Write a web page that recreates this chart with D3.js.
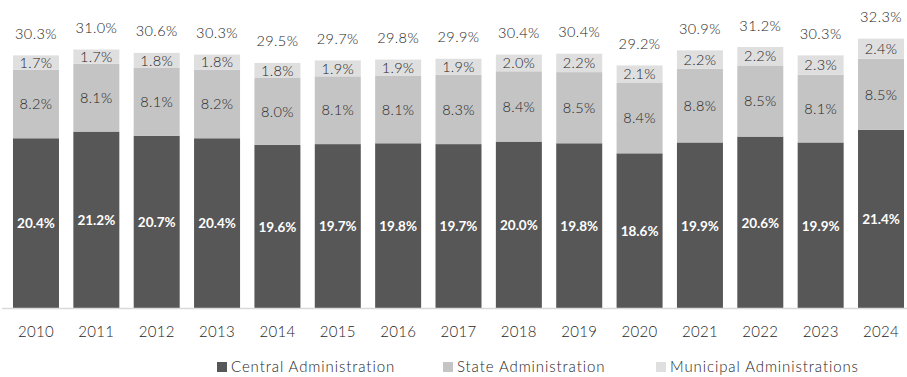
<!DOCTYPE html>
<html>
<head>
<meta charset="utf-8">
<script src="https://cdn.jsdelivr.net/npm/d3@7/dist/d3.min.js"></script>
<style>
  html, body { margin: 0; padding: 0; background: #ffffff; }
  svg { display: block; font-family: Lato, "Noto Sans", sans-serif; }
</style>
</head>
<body>
<svg id="chart" width="907" height="377"></svg>
<script>
// Public revenue shares by level of government (% of GDP)
const years = ["2010","2011","2012","2013","2014","2015","2016","2017","2018","2019","2020","2021","2022","2023","2024"];
const central   = [20.4, 21.2, 20.7, 20.4, 19.6, 19.7, 19.8, 19.7, 20.0, 19.8, 18.6, 19.9, 20.6, 19.9, 21.4];
const state     = [8.2, 8.1, 8.1, 8.2, 8.0, 8.1, 8.1, 8.3, 8.4, 8.5, 8.4, 8.8, 8.5, 8.1, 8.5];
const municipal = [1.7, 1.7, 1.8, 1.8, 1.8, 1.9, 1.9, 1.9, 2.0, 2.2, 2.1, 2.2, 2.2, 2.3, 2.4];
const totals    = [30.3, 31.0, 30.6, 30.3, 29.5, 29.7, 29.8, 29.9, 30.4, 30.4, 29.2, 30.9, 31.2, 30.3, 32.3];
const seriesNames = ["Central Administration", "State Administration", "Municipal Administrations"];

const colors = ["#575757", "#c4c4c4", "#dfdfdf"];
const textColors = ["#ffffff", "#262626", "#262626"];
const inkColor = "#262626";

const svg = d3.select("#chart");
const baseline = 309;

const x = d3.scaleBand()
  .domain(years)
  .range([5.8, 911.2])
  .paddingInner(0.238)
  .paddingOuter(0.119);

const y = d3.scaleLinear()
  .domain([0, 35])
  .range([baseline, baseline - 35 * 8.37]);

const rows = years.map((yr, i) => ({
  year: yr,
  central: central[i],
  state: state[i],
  municipal: municipal[i],
  total: totals[i]
}));

const stack = d3.stack().keys(["central", "state", "municipal"]);
const layers = stack(rows);

// stacked segments
const g = svg.append("g");
layers.forEach((layer, li) => {
  g.selectAll(null)
    .data(layer)
    .join("rect")
    .attr("x", d => x(d.data.year))
    .attr("y", d => y(d[1]))
    .attr("width", x.bandwidth())
    .attr("height", d => y(d[0]) - y(d[1]))
    .attr("fill", colors[li]);
});

// baseline
svg.append("line")
  .attr("x1", 2).attr("x2", 907)
  .attr("y1", baseline - 0.5).attr("y2", baseline - 0.5)
  .attr("stroke", "#d9d9d9")
  .attr("stroke-width", 1.5);

// segment value labels
layers.forEach((layer, li) => {
  g.selectAll(null)
    .data(layer)
    .join("text")
    .attr("x", d => x(d.data.year) + x.bandwidth() / 2)
    .attr("y", d => (y(d[0]) + y(d[1])) / 2)
    .attr("dy", "0.36em")
    .attr("text-anchor", "middle")
    .attr("fill", textColors[li])
    .attr("font-size", li === 0 ? 13.5 : 14.5)
    .attr("font-weight", li === 0 ? 700 : 300)
    .attr("letter-spacing", li === 0 ? 0 : 0.3)
    .text(d => (d[1] - d[0]).toFixed(1) + "%");
});

// total labels above bars
g.selectAll(null)
  .data(rows)
  .join("text")
  .attr("x", d => x(d.year) + x.bandwidth() / 2)
  .attr("y", d => y(d.central + d.state + d.municipal) - 16.5)
  .attr("text-anchor", "middle")
  .attr("fill", inkColor)
  .attr("font-size", 14.5)
  .attr("font-weight", 300)
  .attr("letter-spacing", 0.4)
  .text(d => d.total.toFixed(1) + "%");

// x axis
const xAxis = d3.axisBottom(x).tickSize(0).tickPadding(0);
const ax = svg.append("g")
  .attr("transform", `translate(0,${baseline})`)
  .call(xAxis);
ax.select(".domain").remove();
ax.selectAll("text")
  .attr("y", 23)
  .attr("dy", "0.36em")
  .attr("font-family", "Lato, 'Noto Sans', sans-serif")
  .attr("font-size", 15)
  .attr("font-weight", 300)
  .attr("letter-spacing", 0.3)
  .attr("fill", inkColor);

// legend
const legendX = [217, 443, 656];
const legend = svg.append("g");
seriesNames.forEach((name, i) => {
  legend.append("rect")
    .attr("x", legendX[i]).attr("y", 362)
    .attr("width", 10).attr("height", 10)
    .attr("fill", colors[i]);
  legend.append("text")
    .attr("x", legendX[i] + 14).attr("y", 367)
    .attr("dy", "0.36em")
    .attr("font-size", 15)
    .attr("font-weight", 300)
    .attr("letter-spacing", 0.9)
    .attr("fill", inkColor)
    .text(name);
});
</script>
</body>
</html>
